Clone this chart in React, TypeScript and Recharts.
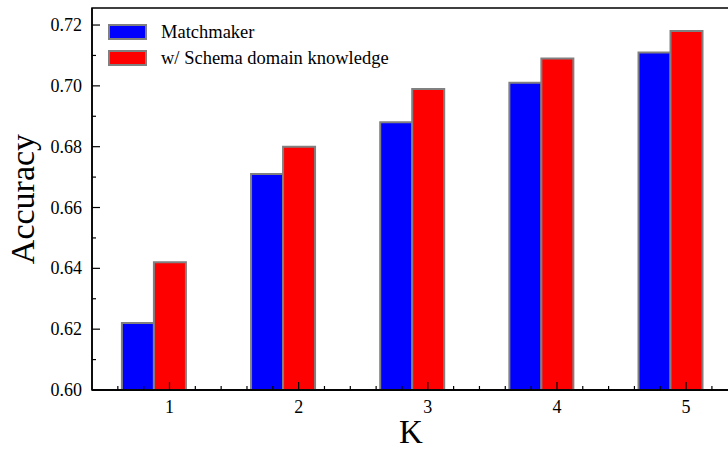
import * as Recharts from 'recharts'
import { BarChart, Bar, XAxis, YAxis, Legend, ReferenceLine } from 'recharts'

const ks = [1, 2, 3, 4, 5]
const matchmaker = [0.622, 0.671, 0.688, 0.701, 0.711]
const withSchema = [0.642, 0.68, 0.699, 0.709, 0.718]

const xTicks = [0.6, 0.8, 1, 1.2, 1.4, 1.6, 1.8, 2, 2.2, 2.4, 2.6, 2.8, 3, 3.2, 3.4, 3.6, 3.8, 4, 4.2, 4.4, 4.6, 4.8, 5, 5.2]
const yTicks = [0.6, 0.61, 0.62, 0.63, 0.64, 0.65, 0.66, 0.67, 0.68, 0.69, 0.7, 0.71, 0.72]

const X_DOMAIN = [0.4, 5.34]
const Y_DOMAIN = [0.6, 0.7256]

const data = ks.map((k, i) => ({ k, matchmaker: matchmaker[i], schema: withSchema[i] }))

const FONT = '"Liberation Serif", "DejaVu Serif", serif'
const EDGE = { stroke: '#000', strokeWidth: 1.5 }

const isMajorX = (v: number) => Math.abs(v - Math.round(v)) < 1e-6
const isMajorY = (v: number) => Math.round(v * 100) % 2 === 0

const usePlotAreaSafe: () => any = (Recharts as any).usePlotArea || (() => null)

// box around the plot, taken from the chart's own plot area
function Frame() {
  const area = usePlotAreaSafe()
  if (!area) return null
  return <rect x={area.x} y={area.y} width={area.width} height={area.height} fill="none" {...EDGE} />
}

// ticks point into the plot, majors longer and labelled
function BottomTick(props: any) {
  const { x, y, payload } = props
  const major = isMajorX(payload.value)
  return (
    <g>
      <path d={`M${x},${y}V${y - (major ? 8 : 4)}`} stroke="#000" strokeWidth={1.2} fill="none" />
      {major && (
        <text x={x} y={y + 23} textAnchor="middle" fontSize={18} fontFamily={FONT} fill="#000">
          {payload.value}
        </text>
      )}
    </g>
  )
}

function TopTick(props: any) {
  const { x, y, payload } = props
  const major = isMajorX(payload.value)
  return <path d={`M${x},${y}V${y + (major ? 8 : 4)}`} stroke="#000" strokeWidth={1.2} fill="none" />
}

function LeftTick(props: any) {
  const { x, y, payload } = props
  const major = isMajorY(payload.value)
  return (
    <g>
      <path d={`M${x},${y}H${x + (major ? 8 : 4)}`} stroke="#000" strokeWidth={1.2} fill="none" />
      {major && (
        <text x={x - 10} y={y + 6} textAnchor="end" fontSize={18} fontFamily={FONT} fill="#000">
          {payload.value.toFixed(2)}
        </text>
      )}
    </g>
  )
}

function RightTick(props: any) {
  const { x, y, payload } = props
  const major = isMajorY(payload.value)
  return <path d={`M${x},${y}H${x - (major ? 8 : 4)}`} stroke="#000" strokeWidth={1.2} fill="none" />
}

function LegendBox(props: any) {
  const items = (props.payload || []).filter((p: any) => p.type !== 'none')
  return (
    <div style={{ fontFamily: FONT, fontSize: 18.5, color: '#000' }}>
      {items.map((p: any) => (
        <div key={p.value} style={{ display: 'flex', alignItems: 'center', height: 26 }}>
          <div
            style={{
              width: 35,
              height: 12,
              background: p.color,
              border: '2px solid #808080',
              marginRight: 14,
            }}
          />
          <span>{p.value}</span>
        </div>
      ))}
    </div>
  )
}

export default function App() {
  return (
    <div style={{ position: 'fixed', left: 0, top: 0, width: 728, height: 449, overflow: 'hidden', background: '#fff' }}>
      <BarChart
        width={740}
        height={449}
        data={data}
        barGap={0}
        margin={{ top: 8, right: 10, bottom: 0, left: 0 }}
      >
        <XAxis xAxisId="bars" dataKey="k" type="number" domain={X_DOMAIN} ticks={ks} hide />
        <XAxis
          dataKey="k"
          type="number"
          domain={X_DOMAIN}
          ticks={xTicks}
          interval={0}
          height={59}
          tickSize={0}
          tickMargin={0}
          axisLine={EDGE}
          tick={BottomTick}
          label={(p: any) => {
            const vb = p.viewBox
            return (
              <text x={vb.x + vb.width / 2} y={443} textAnchor="middle" fontSize={33} fontFamily={FONT} fill="#000">
                K
              </text>
            )
          }}
        />
        <XAxis
          xAxisId="top"
          orientation="top"
          dataKey="k"
          type="number"
          domain={X_DOMAIN}
          ticks={xTicks}
          interval={0}
          height={0}
          tickSize={0}
          tickMargin={0}
          axisLine={EDGE}
          tick={TopTick}
        />
        <YAxis
          type="number"
          domain={Y_DOMAIN}
          allowDataOverflow
          ticks={yTicks}
          interval={0}
          width={92}
          tickSize={0}
          tickMargin={0}
          axisLine={EDGE}
          tick={LeftTick}
          label={(p: any) => {
            const vb = p.viewBox
            const cx = 34
            const cy = vb.y + vb.height / 2
            return (
              <text
                x={cx}
                y={cy}
                transform={`rotate(-90, ${cx}, ${cy})`}
                textAnchor="middle"
                fontSize={34}
                fontFamily={FONT}
                fill="#000"
              >
                Accuracy
              </text>
            )
          }}
        />
        <YAxis
          yAxisId="right"
          orientation="right"
          type="number"
          domain={Y_DOMAIN}
          allowDataOverflow
          ticks={yTicks}
          interval={0}
          width={0}
          tickSize={0}
          tickMargin={0}
          axisLine={EDGE}
          tick={RightTick}
        />
        <Legend
          verticalAlign="middle"
          align="center"
          layout="vertical"
          content={LegendBox}
          wrapperStyle={{ position: 'absolute', top: 19, left: 108, width: 'auto', height: 'auto' }}
        />
        <Bar
          xAxisId="bars"
          dataKey="matchmaker"
          name="Matchmaker"
          fill="#0000ff"
          stroke="#808080"
          strokeWidth={2}
          barSize={32}
          isAnimationActive={false}
        />
        <Bar
          xAxisId="bars"
          dataKey="schema"
          name="w/ Schema domain knowledge"
          fill="#ff0000"
          stroke="#808080"
          strokeWidth={2}
          barSize={32}
          isAnimationActive={false}
        />
        {/* empty slot so the red bar sits centred on each K, as in the original */}
        <Bar
          xAxisId="bars"
          dataKey="gap"
          legendType="none"
          fill="none"
          barSize={32}
          isAnimationActive={false}
        />
        {/* bottom edge drawn again on top of the bars */}
        <ReferenceLine y={Y_DOMAIN[0]} ifOverflow="visible" {...EDGE} />
        <Frame />
      </BarChart>
    </div>
  )
}
